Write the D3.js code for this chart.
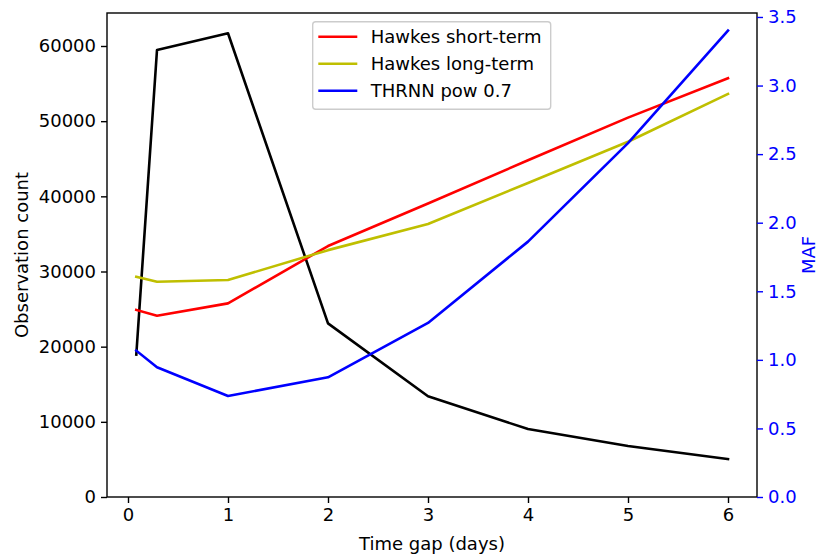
<!DOCTYPE html>
<html>
<head>
<meta charset="utf-8">
<script src="https://cdn.jsdelivr.net/npm/d3@7"></script>
<style>
  html, body { margin: 0; padding: 0; background: #fff; }
  svg { display: block; font-family: "DejaVu Sans", sans-serif; }
</style>
</head>
<body>
<svg id="chart" width="820" height="555"></svg>
<script>
// ---- data ----
const timeGaps = [0.083, 0.29, 1, 2, 3, 4, 5, 6];
const observationCount = [18950, 59470, 61690, 23100, 13400, 9040, 6780, 5050];
const hawkesShort = [1.364, 1.322, 1.412, 1.83, 2.14, 2.455, 2.766, 3.053];
const hawkesLong = [1.606, 1.570, 1.582, 1.80, 1.99, 2.29, 2.59, 2.939];
const thrnnPow = [1.067, 0.946, 0.736, 0.873, 1.269, 1.862, 2.58, 3.40];
const xTicks = [0, 1, 2, 3, 4, 5, 6];
const leftTicks = [0, 10000, 20000, 30000, 40000, 50000, 60000];
const rightTicks = [0, 0.5, 1.0, 1.5, 2.0, 2.5, 3.0, 3.5];
const seriesNames = ["Hawkes short-term", "Hawkes long-term", "THRNN pow 0.7"];
const seriesColors = ["#ff0000", "#bfbf00", "#0000ff"];

// ---- layout ----
const svg = d3.select("#chart");
const L = 107, R = 757, T = 13, B = 497;
const FS = 18;

const x = d3.scaleLinear().domain([-0.21, 6.29]).range([L, R]);
const yL = d3.scaleLinear().domain([0, 64390]).range([B, T]);
const yR = d3.scaleLinear().domain([0, 3.529]).range([B, T]);

// lines
const lineL = d3.line().x((d, i) => x(timeGaps[i])).y(d => yL(d));
const lineR = d3.line().x((d, i) => x(timeGaps[i])).y(d => yR(d));

svg.append("path").datum(observationCount)
  .attr("d", lineL).attr("fill", "none").attr("stroke", "#000")
  .attr("stroke-width", 2.6).attr("stroke-linejoin", "round").attr("stroke-linecap", "square");

const seriesData = [hawkesShort, hawkesLong, thrnnPow];
seriesData.forEach((s, k) => {
  svg.append("path").datum(s)
    .attr("d", lineR).attr("fill", "none").attr("stroke", seriesColors[k])
    .attr("stroke-width", 2.6).attr("stroke-linejoin", "round").attr("stroke-linecap", "square");
});

// frame
svg.append("rect").attr("x", L).attr("y", T).attr("width", R - L).attr("height", B - T)
  .attr("fill", "none").attr("stroke", "#000").attr("stroke-width", 1.4);

// axes
const xAxis = svg.append("g").attr("transform", `translate(0,${B})`)
  .call(d3.axisBottom(x).tickValues(xTicks).tickFormat(d3.format("d")).tickSize(6).tickPadding(5));
const leftAxis = svg.append("g").attr("transform", `translate(${L},0)`)
  .call(d3.axisLeft(yL).tickValues(leftTicks).tickFormat(d => String(d)).tickSize(6).tickPadding(5));
const rightAxis = svg.append("g").attr("transform", `translate(${R},0)`)
  .call(d3.axisRight(yR).tickValues(rightTicks).tickFormat(d3.format(".1f")).tickSize(6).tickPadding(5));

[xAxis, leftAxis, rightAxis].forEach(g => {
  g.select(".domain").remove();
  g.selectAll("text").attr("font-size", FS).attr("font-family", "DejaVu Sans");
  g.selectAll("line").attr("stroke-width", 1.4);
});
xAxis.selectAll("text").attr("fill", "#000");
leftAxis.selectAll("text").attr("fill", "#000");
rightAxis.selectAll("text").attr("fill", "#0000ff");
rightAxis.selectAll("line").attr("stroke", "#0000ff");

// axis labels
svg.append("text").attr("x", (L + R) / 2).attr("y", 550)
  .attr("text-anchor", "middle").attr("font-size", FS).attr("fill", "#000")
  .text("Time gap (days)");
svg.append("text").attr("transform", `translate(28,${(T + B) / 2}) rotate(-90)`)
  .attr("text-anchor", "middle").attr("font-size", FS).attr("fill", "#000")
  .text("Observation count");
svg.append("text").attr("transform", `translate(815,${(T + B) / 2}) rotate(-90)`)
  .attr("text-anchor", "middle").attr("font-size", FS).attr("fill", "#0000ff")
  .text("MAF");

// legend
const lg = svg.append("g");
lg.append("rect").attr("x", 312.7).attr("y", 21.7).attr("width", 238).attr("height", 87.6)
  .attr("rx", 3).attr("fill", "#fff").attr("fill-opacity", 0.8)
  .attr("stroke", "#cccccc").attr("stroke-width", 1.4);
const rowY = [36.7, 63.7, 90.7];
seriesNames.forEach((n, k) => {
  lg.append("line").attr("x1", 318.3).attr("x2", 357.3).attr("y1", rowY[k]).attr("y2", rowY[k])
    .attr("stroke", seriesColors[k]).attr("stroke-width", 2.6);
  lg.append("text").attr("x", 370.7).attr("y", rowY[k] + 6.5)
    .attr("font-size", FS).attr("fill", "#000").text(n);
});
</script>
</body>
</html>
